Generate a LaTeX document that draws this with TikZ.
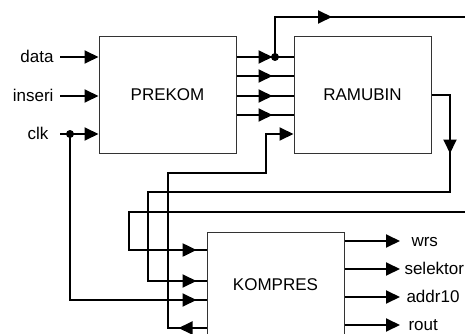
\documentclass[tikz,border=0pt]{standalone}
\usepackage{fontspec}
\setmainfont{Liberation Sans}
\usetikzlibrary{arrows.meta,decorations.markings}

\begin{document}
\begin{tikzpicture}[x=1pt,y=-1pt,font=\fontsize{17}{20}\selectfont,
    >={Triangle[length=14pt,width=13pt]},
    blok/.style={draw=black!80,line width=1pt,minimum width=137pt,minimum height=116pt,inner sep=0pt},
    kabel/.style={line width=1.9pt},
    titik/.style={circle,fill,inner sep=0pt,minimum size=8pt},
    pijl/.style={postaction={decorate},decoration={markings,mark=at position #1 with {\arrow{>}}}}]
    \useasboundingbox (0,0) rectangle (465,334);
    \clip (0,0) rectangle (465,334);
    \node[blok] (prekom) at (167.5,95) {PREKOM};
    \node[blok] (ramubin) at (362.5,95) {RAMUBIN};
    \node[blok,minimum height=104pt,anchor=north] (kompres) at (275.5,232) {KOMPRES};
    \node[anchor=base east] (data) at (57,62.5) {data};
    \node[anchor=base east] (inseri) at (57,101.5) {inseri};
    \node[anchor=base east] (clk) at (52,139.5) {clk};
    \node[anchor=base west] (wrs) at (408,246.5) {wrs};
    \node[anchor=base west] (selektor) at (401,274.5) {selektor};
    \node[anchor=base west] (addr10) at (403,302.5) {addr10};
    \node[anchor=base west] (rout) at (405,330.5) {rout};
    \coordinate (d0) at (60,57);
    \coordinate (i0) at (60,96);
    \coordinate (c0) at (60,134);
    \coordinate (wrs0) at (400,241);
    \coordinate (sel0) at (400,269);
    \coordinate (adr0) at (400,297);
    \coordinate (rout0) at (400,325);
    \coordinate (keluar) at (465,17);
    \coordinate (masuk) at (465,212);
    \node[titik] (cdot) at (70,134) {};
    \node[titik] (split) at (275,57) {};
    \draw[kabel,->] (d0) -- (d0 -| prekom.west);
    \draw[kabel,->] (i0) -- (i0 -| prekom.west);
    \draw[kabel,->] (c0) -- (c0 -| prekom.west);
    \draw[kabel,pijl=-21pt] (prekom.east |- 0,57) -- (ramubin.west |- 0,57);
    \draw[kabel,pijl=-21pt] (prekom.east |- 0,76) -- (ramubin.west |- 0,76);
    \draw[kabel,pijl=-21pt] (prekom.east |- 0,96) -- (ramubin.west |- 0,96);
    \draw[kabel,pijl=-21pt] (prekom.east |- 0,115) -- (ramubin.west |- 0,115);
    \draw[kabel,pijl=-133pt] (split.center) |- (keluar);
    \draw[kabel,postaction={decorate},decoration={markings,
        mark=at position 77pt with {\arrow{>}},mark=at position -10pt with {\arrow{>}}}]
        (ramubin.east) -| (450,192) -| (148,281) -- (kompres.west |- 0,281);
    \draw[kabel,line width=2.5pt,pijl=-10pt] (masuk) -| (129,250) -- (kompres.west |- 0,250);
    \draw[kabel,pijl=-10pt] (cdot.center) |- (kompres.west |- 0,300);
    \draw[kabel,pijl=28pt,->] (kompres.west |- 0,328) -| (168,173) -| (266,134) -- (ramubin.west |- 0,134);
    \draw[kabel,->] (kompres.east |- wrs0) -- (wrs0);
    \draw[kabel,->] (kompres.east |- sel0) -- (sel0);
    \draw[kabel,->] (kompres.east |- adr0) -- (adr0);
    \draw[kabel,->] (kompres.east |- rout0) -- (rout0);
\end{tikzpicture}
\end{document}
